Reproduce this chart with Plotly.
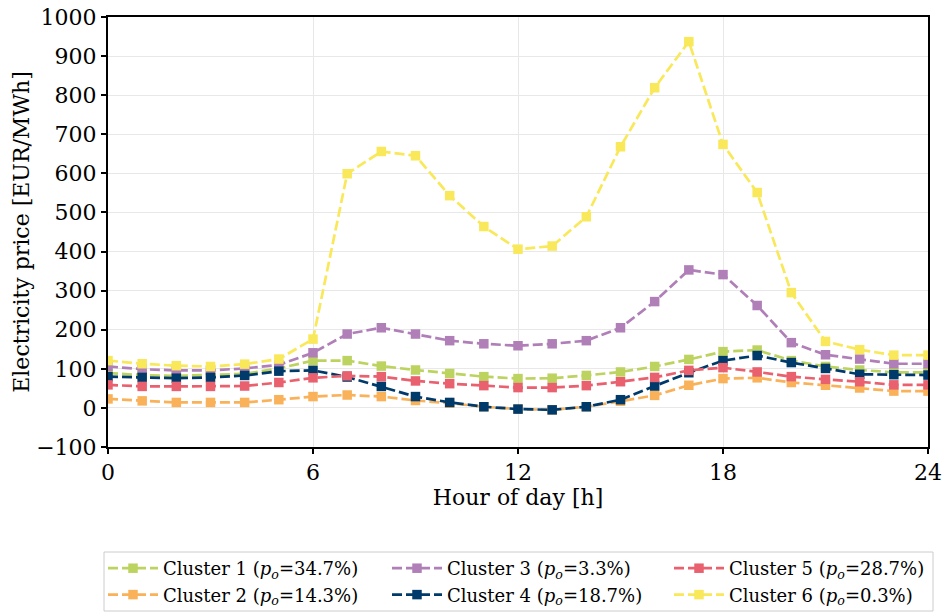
import plotly.graph_objects as go

hours = list(range(25))

cluster1 = [89, 84, 82, 84, 87, 101, 121, 121, 107, 97, 88, 80, 75, 76, 83, 92, 106, 124, 144, 148, 121, 106, 97, 91, 91]
cluster2 = [23, 18, 14, 14, 14, 21, 29, 33, 29, 19, 12, 3, -3, -5, 3, 17, 32, 58, 75, 77, 65, 58, 51, 43, 43]
cluster3 = [106, 99, 96, 96, 101, 110, 141, 189, 205, 189, 172, 164, 159, 164, 172, 205, 272, 353, 341, 262, 167, 136, 125, 113, 113]
cluster4 = [80, 78, 76, 78, 83, 94, 96, 79, 55, 29, 14, 3, -3, -5, 3, 21, 56, 90, 121, 134, 116, 101, 86, 85, 84]
cluster5 = [59, 55, 55, 55, 56, 65, 77, 82, 80, 69, 62, 57, 52, 52, 57, 67, 78, 96, 103, 92, 80, 73, 67, 59, 59]
cluster6 = [121, 113, 108, 106, 112, 125, 176, 599, 656, 645, 543, 464, 406, 414, 489, 668, 819, 937, 674, 551, 295, 170, 149, 135, 135]

names = [
    "Cluster 1 (<i>p</i><sub><i>o</i></sub>=34.7%)",
    "Cluster 2 (<i>p</i><sub><i>o</i></sub>=14.3%)",
    "Cluster 3 (<i>p</i><sub><i>o</i></sub>=3.3%)",
    "Cluster 4 (<i>p</i><sub><i>o</i></sub>=18.7%)",
    "Cluster 5 (<i>p</i><sub><i>o</i></sub>=28.7%)",
    "Cluster 6 (<i>p</i><sub><i>o</i></sub>=0.3%)",
]
series = [cluster1, cluster2, cluster3, cluster4, cluster5, cluster6]
colors = ["#bcd35f", "#f9b25a", "#b07fb8", "#003a6b", "#e9606f", "#f8e85a"]
legend_ids = ["legend", "legend", "legend2", "legend2", "legend3", "legend3"]

x_ticks = [0, 6, 12, 18, 24]

FONT = "DejaVu Serif"
W, H = 942, 613
L, R, T, B = 108, 14, 17, 166
PW, PH = W - L - R, H - T - B

fig = go.Figure()
for name, ys, c, lg in zip(names, series, colors, legend_ids):
    fig.add_trace(go.Scatter(
        x=hours, y=ys, name=name, mode="lines+markers",
        line=dict(color=c, width=2.7, dash="10px,4px"),
        marker=dict(symbol="square", size=9.5, color=c),
        legend=lg,
    ))

axis_common = dict(
    showline=True, linecolor="black", linewidth=2, mirror=True,
    ticks="outside", ticklen=5, tickwidth=1.5, tickcolor="black",
    showgrid=True, gridcolor="#e8e8e8", gridwidth=1,
    zeroline=False, automargin=False,
    tickfont=dict(family=FONT, size=22, color="black"),
)

legend_common = dict(
    orientation="v", xref="paper", yref="container",
    xanchor="left", yanchor="top", y=(H - 550) / H,
    borderwidth=0, bgcolor="rgba(0,0,0,0)",
    font=dict(family=FONT, size=18, color="black"),
    itemwidth=50, traceorder="normal",
)

# legend frame (pixel positions converted to paper coords)
fx0, fx1, fy0, fy1 = 104, 933, 552, 611
fig.add_shape(type="rect", xref="paper", yref="paper",
              x0=(fx0 - L) / PW, x1=(fx1 - L) / PW,
              y0=(H - B - fy1) / PH, y1=(H - B - fy0) / PH,
              line=dict(color="#cccccc", width=1), fillcolor="white", layer="below")

fig.update_layout(
    width=W, height=H,
    margin=dict(l=L, r=R, t=T, b=B),
    paper_bgcolor="white", plot_bgcolor="white",
    font=dict(family=FONT, color="black"),
    xaxis=dict(range=[0, 24], tickvals=x_ticks, ticktext=[str(v) for v in x_ticks],
               title=dict(text="Hour of day [h]", font=dict(family=FONT, size=22), standoff=0),
               **axis_common),
    yaxis=dict(range=[-100, 1000], dtick=100, tick0=0,
               title=dict(text="Electricity price [EUR/MWh]", font=dict(family=FONT, size=22), standoff=0),
               **axis_common),
    legend=dict(x=(103 - L) / PW, **legend_common),
    legend2=dict(x=(387 - L) / PW, **legend_common),
    legend3=dict(x=(669 - L) / PW, **legend_common),
)

fig.write_html("out.html")
